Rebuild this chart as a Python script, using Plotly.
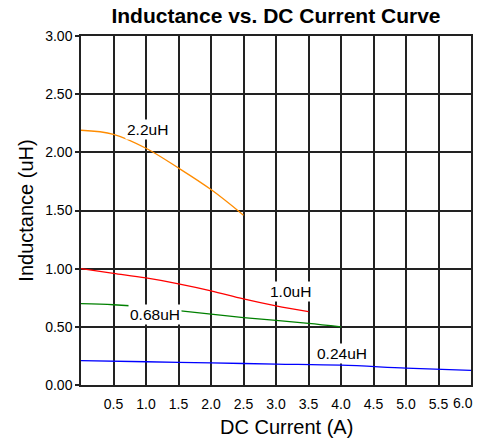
import plotly.graph_objects as go

x_22 = [0, 0.5, 1.0, 1.5, 2.0, 2.5]
y_22 = [2.19, 2.155, 2.035, 1.865, 1.68, 1.46]

x_10 = [0, 0.5, 1.0, 1.5, 2.0, 2.5, 3.0, 3.5]
y_10 = [1.00, 0.96, 0.92, 0.87, 0.81, 0.74, 0.68, 0.63]

x_068 = [0, 0.5, 1.0, 1.5, 2.0, 2.5, 3.0, 3.5, 4.0]
y_068 = [0.70, 0.69, 0.67, 0.64, 0.61, 0.58, 0.555, 0.53, 0.50]

x_024 = [0, 1.0, 2.0, 3.0, 4.0, 5.0, 6.0]
y_024 = [0.21, 0.20, 0.19, 0.18, 0.17, 0.145, 0.125]

x_ticks = [0.5, 1.0, 1.5, 2.0, 2.5, 3.0, 3.5, 4.0, 4.5, 5.0, 5.5, 6.0]
y_ticks = [0.0, 0.5, 1.0, 1.5, 2.0, 2.5, 3.0]

labels = ["2.2uH", "1.0uH", "0.68uH", "0.24uH"]
label_x = [1.02, 3.22, 1.14, 4.02]
label_y = [2.20, 0.80, 0.61, 0.27]

font = "Liberation Sans, Arial, sans-serif"

fig = go.Figure()
for xs, ys, c in [(x_22, y_22, "#ff8c00"), (x_10, y_10, "#ff0000"),
                  (x_068, y_068, "#008000"), (x_024, y_024, "#0000ff")]:
    fig.add_trace(go.Scatter(x=xs, y=ys, mode="lines",
                             line=dict(color=c, width=1.3, shape="spline"),
                             showlegend=False, hoverinfo="skip"))

for t, lx, ly in zip(labels, label_x, label_y):
    fig.add_annotation(x=lx, y=ly, text=t, showarrow=False,
                       bgcolor="white", borderpad=1,
                       font=dict(family=font, size=15.5, color="black"))

# last x tick label is drawn right-aligned to the plot edge, like the reference
x_text = [f"{v:.1f}" for v in x_ticks]
last_label = x_text[-1]
x_text[-1] = ""
fig.add_annotation(x=x_ticks[-1], xref="x", y=0, yref="paper", text=last_label,
                   showarrow=False, xanchor="right", yanchor="top", yshift=-9, xshift=3,
                   borderpad=0,
                   font=dict(family=font, size=14, color="black"))

# x-axis title (sits slightly right of centre in the reference)
fig.add_annotation(x=0.5, xref="paper", y=0, yref="paper", text="DC Current (A)",
                   showarrow=False, xanchor="center", yanchor="middle",
                   xshift=10, yshift=-42,
                   font=dict(family=font, size=20, color="black"))

fig.update_layout(
    width=487, height=440,
    margin=dict(l=81, r=16, t=36, b=55),
    paper_bgcolor="white", plot_bgcolor="white",
    title=dict(text="<b>Inductance vs. DC Current Curve</b>",
               x=0.5, xref="paper", xanchor="center",
               y=1 - 16 / 440, yref="container", yanchor="middle",
               font=dict(family=font, size=21, color="black")),
    font=dict(family=font, color="black"),
)
fig.update_xaxes(range=[0, 6], tickvals=x_ticks, ticktext=x_text, automargin=False,
                 showgrid=True, gridcolor="#222", gridwidth=1.5,
                 showline=True, linecolor="#222", linewidth=1.5, mirror=True,
                 ticks="outside", ticklen=5, tickcolor="rgba(0,0,0,0)", tickwidth=1,
                 tickfont=dict(size=14, family=font), zeroline=False)
fig.update_yaxes(range=[0, 3], tickvals=y_ticks, ticktext=[f"{v:.2f}" for v in y_ticks],
                 automargin=False,
                 showgrid=True, gridcolor="#222", gridwidth=1.5,
                 showline=True, linecolor="#222", linewidth=1.5, mirror=True,
                 ticks="outside", ticklen=4, tickcolor="#222", tickwidth=1.5,
                 tickfont=dict(size=14, family=font), zeroline=False,
                 title=dict(text="Inductance (uH)", font=dict(size=20, family=font), standoff=6))

fig.write_html("out.html", config={"displayModeBar": False},
               post_script="document.body.style.margin='0';")
